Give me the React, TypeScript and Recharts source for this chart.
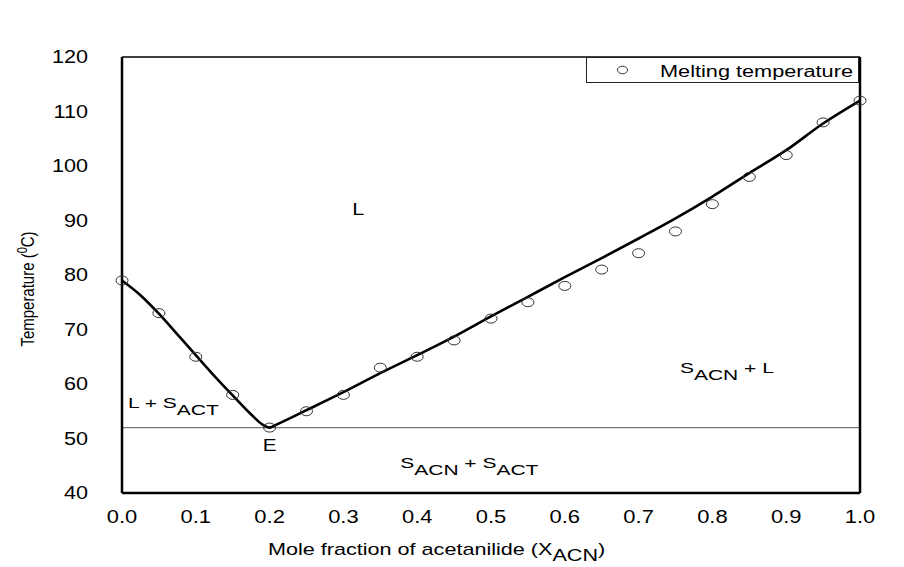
import React from 'react';
import { ComposedChart, Line, Scatter, XAxis, YAxis, ReferenceLine, ReferenceDot, Legend } from 'recharts';

// Measured melting temperatures (circles)
const meltFraction = [0, 0.05, 0.1, 0.15, 0.2, 0.25, 0.3, 0.35, 0.4, 0.45, 0.5, 0.55, 0.6, 0.65, 0.7, 0.75, 0.8, 0.85, 0.9, 0.95, 1.0];
const meltTemp = [79, 73, 65, 58, 52, 55, 58, 63, 65, 68, 72, 75, 78, 81, 84, 88, 93, 98, 102, 108, 112];

// Liquidus curve (solid line)
const curveFraction = [0, 0.025, 0.05, 0.075, 0.1, 0.125, 0.15, 0.175, 0.19, 0.2, 0.21, 0.25, 0.3, 0.35, 0.4, 0.45, 0.5, 0.55, 0.6, 0.65, 0.7, 0.75, 0.8, 0.85, 0.9, 0.95, 1.0];
const curveTemp = [79, 76.3, 72.9, 69.1, 65.3, 61.5, 57.9, 54.4, 52.6, 52, 52.6, 55.2, 58.5, 62, 65.3, 68.7, 72.4, 76, 79.6, 83.1, 86.7, 90.4, 94.4, 98.7, 102.9, 107.8, 112];

const xTicks = [0, 0.1, 0.2, 0.3, 0.4, 0.5, 0.6, 0.7, 0.8, 0.9, 1.0];
const yTicks = [40, 50, 60, 70, 80, 90, 100, 110, 120];
const eutecticTemp = 52;
const legendLabel = 'Melting temperature';

const meltData = meltFraction.map((x, i) => ({ x, t: meltTemp[i] }));
const curveData = curveFraction.map((x, i) => ({ x, t: curveTemp[i] }));

const FONT = '"Liberation Sans", Arial, Helvetica, sans-serif';

const YTick = (props: any) => {
  const { x, y, payload } = props;
  return (
    <g transform={`translate(${x},${y}) scale(1.2,1)`}>
      <text x={0} y={0} dy="0.36em" textAnchor="end" fontSize={18} fontFamily={FONT} fill="#000">
        {payload.value}
      </text>
    </g>
  );
};

const XTick = (props: any) => {
  const { x, y, payload } = props;
  return (
    <g transform={`translate(${x},${y}) scale(1.22,1)`}>
      <text x={0} y={0} dy="0.71em" textAnchor="middle" fontSize={18} fontFamily={FONT} fill="#000">
        {Number(payload.value).toFixed(1)}
      </text>
    </g>
  );
};

const XTitle = (props: any) => {
  const vb = props.viewBox || { x: 122, y: 493 };
  return (
    <g transform={`translate(${vb.x + 146},${vb.y + 62}) scale(1.35,1)`}>
      <text x={0} y={0} fontSize={16} fontFamily={FONT} fill="#000" style={{ whiteSpace: 'pre' }}>
        <tspan>Mole fraction of acetanilide (X</tspan>
        <tspan dy={6}>ACN</tspan>
        <tspan dy={-6}>)</tspan>
      </text>
    </g>
  );
};

const YTitle = () => (
  <g transform={`translate(34,289) scale(1.25,1) rotate(-90)`}>
    <text x={0} y={0} textAnchor="middle" fontSize={15} fontFamily={FONT} fill="#000" style={{ whiteSpace: 'pre' }}>
      <tspan>Temperature (</tspan>
      <tspan dy={-6} fontSize={11}>0</tspan>
      <tspan dy={6}>C)</tspan>
    </text>
  </g>
);

const Ring = (props: any) => (
  <ellipse cx={props.cx} cy={props.cy} rx={6} ry={4.5} fill="none" stroke="#333" strokeWidth={1} />
);

type Part = [string, boolean];
const regionShape = (parts: Part[], anchor: 'start' | 'middle' = 'start', size = 15, sx = 1.4) => (p: any) => {
  let prevSub = false;
  return (
    <g transform={`translate(${p.cx},${p.cy}) scale(${sx},1)`}>
      <text x={0} y={0} textAnchor={anchor} fontSize={size} fontFamily={FONT} fill="#000" style={{ whiteSpace: 'pre' }}>
        {parts.map(([s, sub], i) => {
          const dy = (sub ? 7 : 0) - (prevSub ? 7 : 0);
          prevSub = sub;
          return (
            <tspan key={i} dy={dy}>
              {s}
            </tspan>
          );
        })}
      </text>
    </g>
  );
};

const LegendBox = () => (
  <svg width={274} height={27} style={{ display: 'block', overflow: 'visible' }}>
    <rect x={0.5} y={0.5} width={272} height={25} fill="none" stroke="#222" strokeWidth={1} />
    <ellipse cx={36.5} cy={13} rx={5} ry={3.8} fill="none" stroke="#333" strokeWidth={1} />
    <text x={74} y={19.5} fontSize={16} fontFamily={FONT} fill="#000" textLength={193} lengthAdjust="spacingAndGlyphs">
      {legendLabel}
    </text>
  </svg>
);

export default function App() {
  return (
    <div style={{ position: 'absolute', left: 0, top: 0, width: 904, height: 567, background: '#fff' }}>
      <ComposedChart width={904} height={567} margin={{ top: 57, right: 44, left: 0, bottom: 0 }}>
        <XAxis
          type="number"
          dataKey="x"
          domain={[0, 1]}
          ticks={xTicks}
          interval={0}
          height={74}
          tickSize={0}
          tickLine={false}
          tickMargin={17}
          tick={<XTick />}
          axisLine={{ stroke: '#000', strokeWidth: 2.5 }}
          label={{ content: <XTitle /> }}
        />
        <YAxis
          type="number"
          dataKey="t"
          domain={[40, 120]}
          ticks={yTicks}
          interval={0}
          width={122}
          tickSize={0}
          tickLine={false}
          tickMargin={34}
          tick={<YTick />}
          axisLine={{ stroke: '#000', strokeWidth: 2.5 }}
          label={{ content: <YTitle /> }}
        />
        <ReferenceLine y={eutecticTemp} stroke="#777" strokeWidth={1.2} />
        <ReferenceLine y={120} stroke="#000" strokeWidth={1.5} />
        <ReferenceLine x={1} stroke="#000" strokeWidth={2.5} />
        <Line
          data={curveData}
          dataKey="t"
          type="monotone"
          stroke="#000"
          strokeWidth={2.6}
          dot={false}
          activeDot={false}
          isAnimationActive={false}
          legendType="none"
        />
        <Scatter data={meltData} dataKey="t" shape={Ring} isAnimationActive={false} name={legendLabel} />
        <ReferenceDot x={0.32} y={91.0} r={0} shape={regionShape([['L', false]], 'middle', 16, 1.35)} />
        <ReferenceDot x={0.0081} y={55.6} r={0} shape={regionShape([['L + S', false], ['ACT', true]])} />
        <ReferenceDot x={0.2} y={47.7} r={0} shape={regionShape([['E', false]], 'middle', 16, 1.3)} />
        <ReferenceDot
          x={0.377}
          y={44.6}
          r={0}
          shape={regionShape([['S', false], ['ACN', true], [' + S', false], ['ACT', true]])}
        />
        <ReferenceDot x={0.756} y={62.0} r={0} shape={regionShape([['S', false], ['ACN', true], [' + L', false]])} />
        <Legend
          layout="vertical"
          align="center"
          verticalAlign="middle"
          content={<LegendBox />}
          wrapperStyle={{ position: 'absolute', left: 586, top: 56.5, width: 274, height: 27 }}
        />
      </ComposedChart>
    </div>
  );
}
